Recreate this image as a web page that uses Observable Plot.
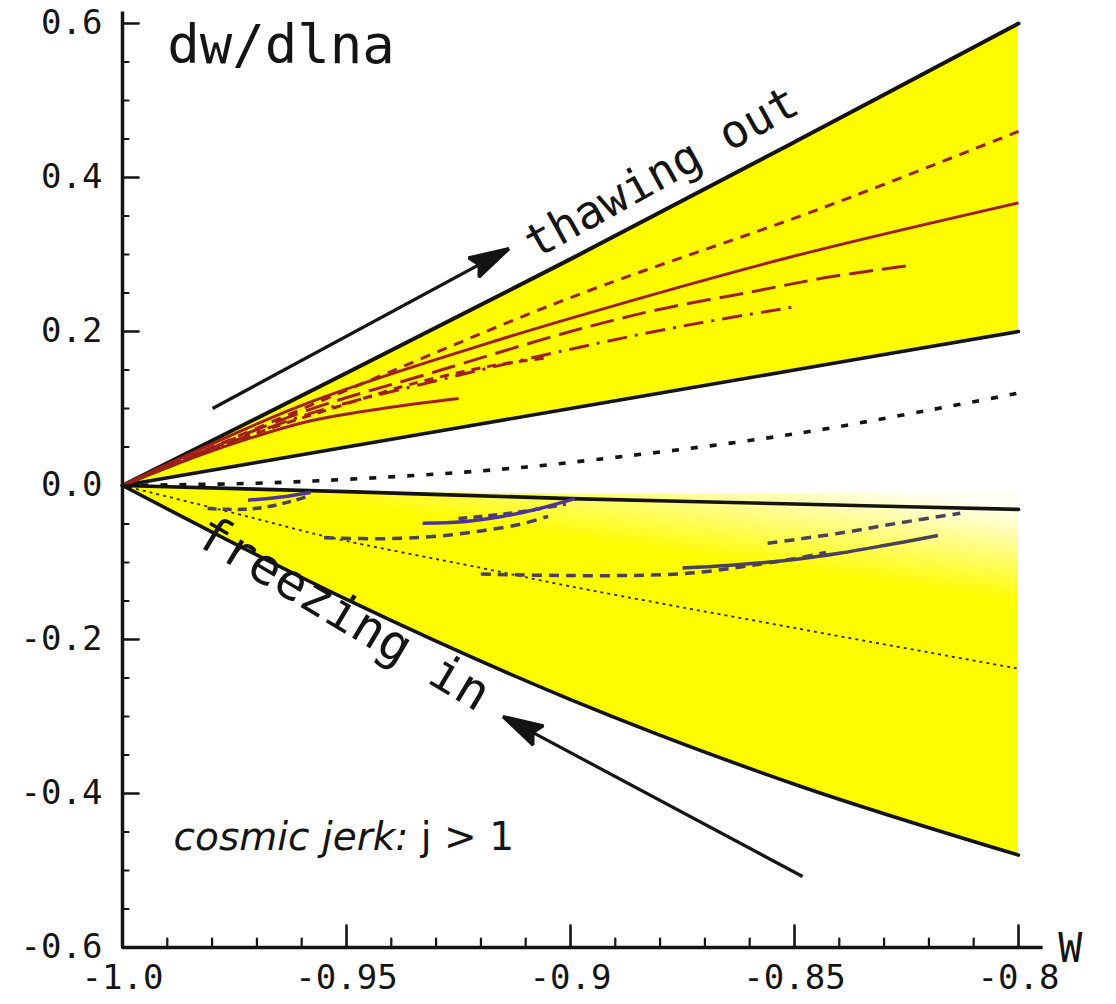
<!DOCTYPE html>
<html>
<head>
<meta charset="utf-8">
<script src="https://cdn.jsdelivr.net/npm/d3@7"></script>
<script src="https://cdn.jsdelivr.net/npm/@observablehq/plot@0.6"></script>
<style>
  html, body { margin: 0; padding: 0; background: #ffffff; }
  svg { display: block; }
</style>
</head>
<body>
<div id="chart"></div>
<script>
// ---- phase-plane data: w on x, dw/dln a on y ----
const wGrid       = [-1, -0.95, -0.9, -0.85, -0.8];
const thawUpper   = [0, 0.146, 0.294, 0.446, 0.6];
const thawLower   = [0, 0.05, 0.1, 0.15, 0.2];
const freezeUpper = [0, -0.008, -0.017, -0.024, -0.031];
const freezeLower = [0, -0.148, -0.278, -0.388, -0.48];
// soft yellow haze just above the upper freezing boundary
const freezeHaze  = [0, -0.007, -0.011, -0.01, -0.008];

// dotted reference curves
const dottedUpper = [[-1, 0], [-0.97, 0.003], [-0.95, 0.008], [-0.92, 0.019], [-0.9, 0.03], [-0.85, 0.067], [-0.8, 0.12]];
const dottedLower = [[-1, 0], [-0.975, -0.036], [-0.954, -0.067], [-0.92, -0.107], [-0.9, -0.131], [-0.85, -0.185], [-0.8, -0.238]];

// thawing model tracks
const redDashTop    = [[-1, 0], [-0.945, 0.136], [-0.9, 0.244], [-0.844, 0.36], [-0.8, 0.46]];
const redSolid      = [[-1, 0], [-0.96, 0.104], [-0.92, 0.182], [-0.89, 0.234], [-0.85, 0.298], [-0.8, 0.367]];
const redLongDash   = [[-1, 0], [-0.96, 0.095], [-0.93, 0.148], [-0.9, 0.2], [-0.88, 0.229], [-0.86, 0.251], [-0.843, 0.27], [-0.824, 0.286]];
const redDashDot    = [[-1, 0], [-0.96, 0.09], [-0.93, 0.136], [-0.9, 0.177], [-0.875, 0.207], [-0.85, 0.232]];
const redDashLow    = [[-1, 0], [-0.97, 0.068], [-0.95, 0.106], [-0.936, 0.131], [-0.918, 0.155], [-0.905, 0.166]];
const redSolidShort = [[-1, 0], [-0.98, 0.045], [-0.958, 0.084], [-0.942, 0.1], [-0.925, 0.113]];

// freezing model tracks (three families)
const leftDash    = [[-0.981, -0.03], [-0.973, -0.031], [-0.967, -0.027], [-0.962, -0.02], [-0.958, -0.013]];
const leftSolid   = [[-0.972, -0.019], [-0.966, -0.016], [-0.958, -0.009]];
const midDash     = [[-0.955, -0.068], [-0.94, -0.069], [-0.93, -0.066], [-0.92, -0.059], [-0.911, -0.05], [-0.905, -0.04]];
const midSolid    = [[-0.933, -0.049], [-0.924, -0.047], [-0.915, -0.04], [-0.907, -0.03], [-0.899, -0.017]];
const midDashUp   = [[-0.925, -0.043], [-0.912, -0.035], [-0.901, -0.024]];
const rightDash   = [[-0.92, -0.115], [-0.9, -0.117], [-0.88, -0.116], [-0.87, -0.112], [-0.86, -0.104], [-0.85, -0.095], [-0.843, -0.087]];
const rightSolid  = [[-0.875, -0.107], [-0.865, -0.104], [-0.85, -0.096], [-0.84, -0.088], [-0.83, -0.078], [-0.818, -0.065]];
const rightDashUp = [[-0.856, -0.075], [-0.84, -0.062], [-0.826, -0.048], [-0.813, -0.036]];

// axes
const xTicks = [-1, -0.95, -0.9, -0.85, -0.8];
const xTickLabels = ["-1.0", "-0.95", "-0.9", "-0.85", "-0.8"];
const xMinor = [-0.99, -0.98, -0.97, -0.96, -0.94, -0.93, -0.92, -0.91, -0.89, -0.88, -0.87, -0.86, -0.84, -0.83, -0.82, -0.81];
const yTicks = [-0.6, -0.4, -0.2, 0, 0.2, 0.4, 0.6];
const yTickLabels = ["-0.6", "-0.4", "-0.2", "0.0", "0.2", "0.4", "0.6"];
const yMinor = [-0.55, -0.5, -0.45, -0.35, -0.3, -0.25, -0.15, -0.1, -0.05, 0.05, 0.1, 0.15, 0.25, 0.3, 0.35, 0.45, 0.5, 0.55];

// ---- styling ----
const ink = "#141414";
const yellow = "#fffb00";
const red = "#a11f19";
const violet = "#4c3597";
const slate = "#4a4258";
const mono = "DejaVu Sans Mono";

const thawBand = wGrid.map((w, i) => ({w, lo: thawLower[i], hi: thawUpper[i]}));
const freezeBand = wGrid.map((w, i) => ({w, lo: freezeLower[i], hi: freezeUpper[i], haze: freezeHaze[i]}));

const track = (arr, o) => Plot.line(arr, {x: d => d[0], y: d => d[1], curve: "catmull-rom", strokeLinecap: "butt", ...o});
const tickShape = {draw(ctx, l) { ctx.moveTo(0, 0); ctx.lineTo(0, -l); }};

// filled arrowhead marker
function filledArrow(color, context) {
  const doc = (context && context.document) || document;
  const ns = "http://www.w3.org/2000/svg";
  const m = doc.createElementNS(ns, "marker");
  m.setAttribute("viewBox", "-42 -13 44 26");
  m.setAttribute("markerWidth", "44");
  m.setAttribute("markerHeight", "26");
  m.setAttribute("markerUnits", "userSpaceOnUse");
  m.setAttribute("orient", "auto");
  m.setAttribute("refX", "0");
  m.setAttribute("refY", "0");
  const p = doc.createElementNS(ns, "path");
  p.setAttribute("d", "M2,0L-38,-11L-32,0L-38,11Z");
  p.setAttribute("fill", color);
  m.appendChild(p);
  return m;
}

const arrows = [
  {x1: -0.9799, y1: 0.1, x2: -0.9141, y2: 0.3065},
  {x1: -0.8482, y1: -0.5078, x2: -0.9147, y2: -0.3013}
];

const chart = Plot.plot({
  width: 1116,
  height: 1004,
  marginLeft: 122,
  marginRight: 98,
  marginTop: 23,
  marginBottom: 57,
  x: {domain: [-1, -0.8]},
  y: {domain: [-0.6, 0.6]},
  style: {fontFamily: mono, background: "#ffffff", color: ink},
  marks: [
    Plot.areaY(thawBand, {x: "w", y1: "lo", y2: "hi", fill: yellow, curve: "catmull-rom"}),
    Plot.areaY(freezeBand, {x: "w", y1: "lo", y2: "haze", fill: "url(#freezeFade)", curve: "catmull-rom"}),

    track(dottedUpper, {stroke: ink, strokeWidth: 3.6, strokeDasharray: "7,12"}),
    track(dottedLower, {stroke: "#2a2a2a", strokeWidth: 1.8, strokeDasharray: "3,4"}),

    Plot.line(thawBand, {x: "w", y: "hi", stroke: ink, strokeWidth: 4, curve: "catmull-rom"}),
    Plot.line(thawBand, {x: "w", y: "lo", stroke: ink, strokeWidth: 3.6, curve: "catmull-rom"}),
    Plot.line(freezeBand, {x: "w", y: "hi", stroke: ink, strokeWidth: 3.6, curve: "catmull-rom"}),
    Plot.line(freezeBand, {x: "w", y: "lo", stroke: ink, strokeWidth: 3.6, curve: "catmull-rom"}),

    track(redSolidShort, {stroke: red, strokeWidth: 3}),
    track(redDashLow, {stroke: red, strokeWidth: 3, strokeDasharray: "9,7"}),
    track(redDashDot, {stroke: red, strokeWidth: 3, strokeDasharray: "20,8,3,8"}),
    track(redLongDash, {stroke: red, strokeWidth: 3, strokeDasharray: "24,9"}),
    track(redSolid, {stroke: red, strokeWidth: 3}),
    track(redDashTop, {stroke: red, strokeWidth: 3, strokeDasharray: "10,8"}),

    track(leftDash, {stroke: slate, strokeWidth: 3.5, strokeDasharray: "9,6"}),
    track(leftSolid, {stroke: violet, strokeWidth: 3.5}),
    track(midDash, {stroke: slate, strokeWidth: 3.5, strokeDasharray: "10,7"}),
    track(midDashUp, {stroke: slate, strokeWidth: 3.5, strokeDasharray: "9,6"}),
    track(midSolid, {stroke: violet, strokeWidth: 3.5}),
    track(rightDash, {stroke: slate, strokeWidth: 3.5, strokeDasharray: "10,7"}),
    track(rightDashUp, {stroke: slate, strokeWidth: 3.5, strokeDasharray: "10,7"}),
    track(rightSolid, {stroke: slate, strokeWidth: 3.5}),

    // axis lines and inward ticks
    Plot.ruleX([-1], {y1: -0.6, y2: 0.615, stroke: ink, strokeWidth: 3.5}),
    Plot.ruleY([-0.6], {x1: -1, x2: -0.7945, stroke: ink, strokeWidth: 3.5}),
    Plot.vector(yTicks, {y: d => d, frameAnchor: "left", length: 16, rotate: 90, anchor: "start", shape: tickShape, stroke: ink, strokeWidth: 2.6}),
    Plot.vector(yMinor, {y: d => d, frameAnchor: "left", length: 6, rotate: 90, anchor: "start", shape: tickShape, stroke: ink, strokeWidth: 2.2}),
    Plot.vector(xTicks, {x: d => d, frameAnchor: "bottom", length: 22, rotate: 0, anchor: "start", shape: tickShape, stroke: ink, strokeWidth: 2.6}),
    Plot.vector(xMinor, {x: d => d, frameAnchor: "bottom", length: 9, rotate: 0, anchor: "start", shape: tickShape, stroke: ink, strokeWidth: 2.2}),
    Plot.axisY(yTicks, {tickSize: 0, tickPadding: 20, tickFormat: d => yTickLabels[yTicks.indexOf(d)], fontSize: 34, fontFamily: mono, label: null}),
    Plot.axisX(xTicks, {tickSize: 0, tickPadding: 17, tickFormat: d => xTickLabels[xTicks.indexOf(d)], fontSize: 34, fontFamily: mono, label: null}),

    // annotations
    Plot.link(arrows, {x1: "x1", y1: "y1", x2: "x2", y2: "y2", stroke: ink, strokeWidth: 3.2, markerEnd: filledArrow}),
    Plot.text(["dw/dlna"], {x: -0.99, y: 0.549, textAnchor: "start", lineAnchor: "bottom", fontSize: 54, fontFamily: mono, fill: ink}),
    Plot.text(["thawing out"], {x: -0.9078, y: 0.2935, rotate: -29, textAnchor: "start", lineAnchor: "bottom", fontSize: 46, fontFamily: mono, fill: ink}),
    Plot.text(["freezing in"], {x: -0.9843, y: -0.0745, rotate: 30.8, textAnchor: "start", lineAnchor: "bottom", fontSize: 50, fontFamily: mono, fill: ink}),
    Plot.text(["cosmic jerk: j > 1"], {x: -0.9886, y: -0.474, textAnchor: "start", lineAnchor: "bottom", fontSize: 39, fontFamily: "DejaVu Sans", fill: ink}),
    Plot.text(["W"], {x: -0.7911, y: -0.619, textAnchor: "start", lineAnchor: "bottom", fontSize: 40, fontFamily: mono, fill: ink})
  ]
});

// fade for the freezing region: full yellow low and to the left, paling toward the upper right
const fadeFrom = [-0.804, -0.149];
const fadeTo = [-0.801, -0.028];
const sx = chart.scale("x"), sy = chart.scale("y");
const defs = d3.select(chart).insert("defs", ":first-child");
const grad = defs.append("linearGradient")
  .attr("id", "freezeFade")
  .attr("gradientUnits", "userSpaceOnUse")
  .attr("x1", sx.apply(fadeFrom[0])).attr("y1", sy.apply(fadeFrom[1]))
  .attr("x2", sx.apply(fadeTo[0])).attr("y2", sy.apply(fadeTo[1]));
grad.append("stop").attr("offset", 0).attr("stop-color", yellow);
grad.append("stop").attr("offset", 1).attr("stop-color", "#fffff4");

// mixed italic/roman caption
d3.select(chart).selectAll("text")
  .filter(function () { return this.textContent === "cosmic jerk: j > 1"; })
  .each(function () {
    const t = d3.select(this).text("");
    t.append("tspan").attr("font-style", "italic").text("cosmic jerk:");
    t.append("tspan").text(" j > 1");
  });

document.getElementById("chart").appendChild(chart);
</script>
</body>
</html>
